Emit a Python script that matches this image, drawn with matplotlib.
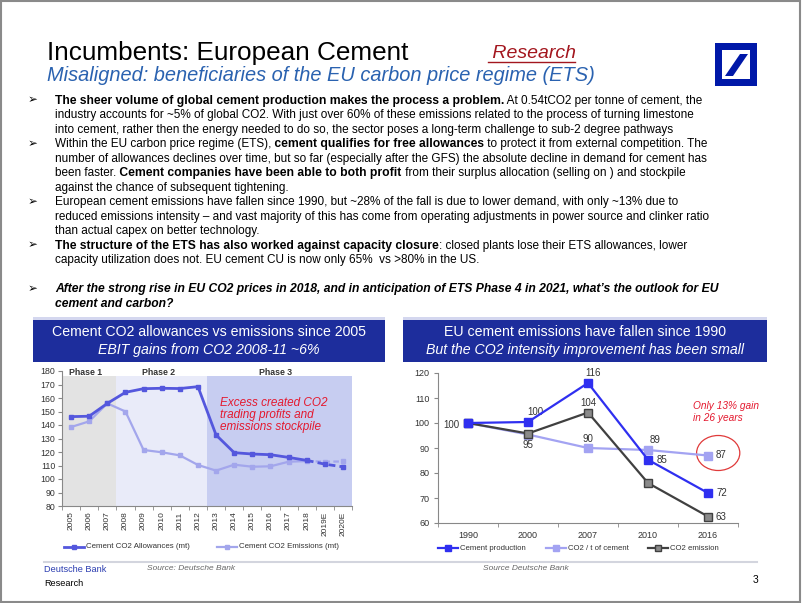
import matplotlib
matplotlib.use('Agg')
import matplotlib.pyplot as plt
from matplotlib.patches import Rectangle, Ellipse, Polygon
from matplotlib.lines import Line2D
from matplotlib.text import Annotation

plt.rcParams['font.family'] = ['Liberation Sans', 'DejaVu Sans']

# ---------------- data ----------------
years_left = ['2005', '2006', '2007', '2008', '2009', '2010', '2011', '2012',
              '2013', '2014', '2015', '2016', '2017', '2018', '2019E', '2020E']
allowances = [146.2, 146.5, 156, 164.2, 166.9, 167.2, 167, 168.4,
              132.6, 119.5, 118.5, 118, 116, 113.8, 111, 109]
emissions = [138.5, 142.7, 156, 150, 121.5, 119.8, 117.5, 110.4,
             106.2, 110.6, 109.1, 109.4, 112.8, 113.3, 112.8, 113]
n_actual = 14  # 2005..2018 solid, forecasts dashed
phases = ['Phase 1', 'Phase 2', 'Phase 3']
phase_spans = [(0, 2), (3, 7), (8, 15)]

years_right = ['1990', '2000', '2007', '2010', '2016']
production = [100, 100.4, 116, 85.3, 72]
co2_per_t = [100, 95.4, 90, 89.2, 87]
co2_emission = [100, 95.8, 104.2, 76, 62.6]

W, H = 802, 603
fig = plt.figure(figsize=(W / 100, H / 100), dpi=100)


def fx(x):
    return x / W


def fy(y):
    return 1 - y / H


def ptext(x, y, s, **kw):
    return fig.text(fx(x), fy(y), s, **kw)


# frame
fig.add_artist(Rectangle((0.001, 0.002), 0.997, 0.996, transform=fig.transFigure,
                         fill=False, edgecolor='#8a8a8a', linewidth=1.5))

# ---------------- header ----------------
ptext(47, 60, 'Incumbents: European Cement', fontsize=18.8, color='black', va='baseline')
ptext(47, 81, 'Misaligned: beneficiaries of the EU carbon price regime (ETS)',
      fontsize=14.4, color='#2a62b0', style='italic', va='baseline')
ptext(487, 58, ' Research', fontsize=14, color='#a3161e', style='italic', va='baseline')
fig.add_artist(Line2D([fx(488), fx(575)], [fy(62), fy(62)], color='#a3161e', linewidth=1))

# logo
DB = '#0018a8'
fig.add_artist(Rectangle((fx(715), fy(86)), fx(757) - fx(715), fy(43) - fy(86),
                         transform=fig.transFigure, facecolor=DB, edgecolor='none'))
fig.add_artist(Rectangle((fx(722), fy(79)), fx(750) - fx(722), fy(50) - fy(79),
                         transform=fig.transFigure, facecolor='white', edgecolor='none'))
fig.add_artist(Polygon([(fx(725), fy(76)), (fx(733), fy(76)), (fx(748), fy(54)), (fx(740), fy(54))],
                       closed=True, transform=fig.transFigure, facecolor=DB, edgecolor='none'))

# ---------------- bullets ----------------
REG_SIZE = 8.45
BOLD_SIZE = 8.7
N = 'normal'
B = 'bold'
lines = [
    (0, True, [("The sheer volume of global cement production makes the process a problem.", B, N),
               (" At 0.54tCO2 per tonne of cement, the", N, N)]),
    (1, False, [("industry accounts for ~5% of global CO2. With just over 60% of these emissions related to the process of turning limestone", N, N)]),
    (2, False, [("into cement, rather then the energy needed to do so, the sector poses a long-term challenge to sub-2 degree pathways", N, N)]),
    (3, True, [("Within the EU carbon price regime (ETS),", N, N),
               (" cement qualifies for free allowances", B, N),
               (" to protect it from external competition. The", N, N)]),
    (4, False, [("number of allowances declines over time, but so far (especially after the GFS) the absolute decline in demand for cement has", N, N)]),
    (5, False, [("been faster.", N, N), (" Cement companies have been able to both profit", B, N),
                (" from their surplus allocation (selling on ) and stockpile", N, N)]),
    (6, False, [("against the chance of subsequent tightening.", N, N)]),
    (7, True, [("European cement emissions have fallen since 1990, but ~28% of the fall is due to lower demand, with only ~13% due to", N, N)]),
    (8, False, [("reduced emissions intensity \u2013 and vast majority of this has come from operating adjustments in power source and clinker ratio", N, N)]),
    (9, False, [("than actual capex on better technology.", N, N)]),
    (10, True, [("The structure of the ETS has also worked against capacity closure", B, N),
                (": closed plants lose their ETS allowances, lower", N, N)]),
    (11, False, [("capacity utilization does not. EU cement CU is now only 65%  vs >80% in the US.", N, N)]),
    (13, True, [("After the strong rise in EU CO2 prices in 2018, and in anticipation of ETS Phase 4 in 2021, what\u2019s the outlook for EU", B, 'italic')]),
    (14, False, [("cement and carbon?", B, 'italic')]),
]
LINE0 = 100
STEP = 14.5
for k, bullet, segs in lines:
    yc = LINE0 + STEP * k
    if bullet:
        ptext(33, yc, '\u27a2', fontsize=8.5, family='DejaVu Sans', ha='center', va='center', color='black')
    prev = None
    for s, wgt, sty in segs:
        size = BOLD_SIZE if wgt == B else REG_SIZE
        if prev is None:
            prev = ptext(55, yc + 6.8, s, fontsize=size, fontweight=wgt, style=sty,
                         va='bottom', ha='left', color='black')
        else:
            a = Annotation(s, xy=(1, 0), xycoords=prev, fontsize=size, fontweight=wgt,
                           style=sty, va='bottom', ha='left', color='black',
                           family=['Liberation Sans', 'DejaVu Sans'])
            fig.add_artist(a)
            prev = a

# ---------------- chart header boxes ----------------
HDR = '#1d2d9c'
for (x0, x1, l1, l2) in [(33, 385, 'Cement CO2 allowances vs emissions since 2005',
                          'EBIT gains from CO2 2008-11 ~6%'),
                         (403, 767, 'EU cement emissions have fallen since 1990',
                          'But the CO2 intensity improvement has been small')]:
    fig.add_artist(Rectangle((fx(x0), fy(362)), fx(x1) - fx(x0), fy(320) - fy(362),
                             transform=fig.transFigure, facecolor=HDR, edgecolor='none'))
    fig.add_artist(Rectangle((fx(x0), fy(320)), fx(x1) - fx(x0), fy(317) - fy(320),
                             transform=fig.transFigure, facecolor='#d4d7ef', edgecolor='none'))
    xc = (x0 + x1) / 2
    ptext(xc, 332, l1, fontsize=10.2, color='white', ha='center', va='center')
    ptext(xc, 350, l2, fontsize=10.2, color='white', ha='center', va='center', style='italic')

# ---------------- left chart ----------------
TICKC = '#333333'
axL = fig.add_axes([fx(62), fy(506), fx(352) - fx(62), fy(371) - fy(506)])
axL.set_xlim(-0.5, len(years_left) - 0.5)
axL.set_ylim(80, 180)
phase_colors = ['#e3e3e3', '#e9ebf9', '#c7cdf1']
for (a, b), pc, name in zip(phase_spans, phase_colors, phases):
    axL.fill_between([a - 0.5, b + 0.5], 80, 176, color=pc, linewidth=0, zorder=0)
    axL.text((a + b) / 2 - 0.2, 179, name, fontsize=6.3, fontweight='bold', color='#333333',
             ha='center', va='center')
xs = list(range(len(years_left)))
C_ALLOW = '#5457dd'
C_EMIS = '#a3a6ec'
axL.plot(xs[:n_actual], allowances[:n_actual], color=C_ALLOW, lw=2, marker='s', ms=3.2, zorder=4)
axL.plot(xs[n_actual - 1:], allowances[n_actual - 1:], color=C_ALLOW, lw=2, ls=(0, (2.5, 1.5)),
         marker='s', ms=3.2, markevery=[1, 2], zorder=4)
axL.plot(xs[:n_actual], emissions[:n_actual], color=C_EMIS, lw=1.6, marker='s', ms=3, zorder=3)
axL.plot(xs[n_actual - 1:], emissions[n_actual - 1:], color=C_EMIS, lw=1.6, ls=(0, (2.5, 1.5)),
         marker='s', ms=3, markevery=[1, 2], zorder=3)
axL.text(8.2, 161, 'Excess created CO2\ntrading profits and\nemissions stockpile',
         fontsize=8.5, color='#e4192f', style='italic', ha='left', va='top', linespacing=1.0)
axL.set_yticks(range(80, 181, 10))
axL.set_xticks(xs)
axL.set_xticklabels(years_left, rotation=90)
axL.set_xticks([x - 0.5 for x in xs] + [len(xs) - 0.5], minor=True)
axL.tick_params(axis='x', which='major', length=0, labelsize=6, colors=TICKC, pad=4)
axL.tick_params(axis='x', which='minor', length=3, color='#888888')
axL.tick_params(axis='y', length=3, labelsize=6.3, colors=TICKC, color='#888888', pad=2)
for sp in ['top', 'right']:
    axL.spines[sp].set_visible(False)
for sp in ['left', 'bottom']:
    axL.spines[sp].set_color('#888888')
    axL.spines[sp].set_linewidth(0.8)
axL.set_facecolor('none')

# left legend
for (x0, lab, col, lw) in [(64, 'Cement CO2 Allowances (mt)', C_ALLOW, 2),
                           (217, 'Cement CO2 Emissions (mt)', C_EMIS, 1.6)]:
    fig.add_artist(Line2D([fx(x0), fx(x0 + 10), fx(x0 + 20)], [fy(547)] * 3, color=col, lw=lw,
                          marker='s', ms=3, markevery=[1]))
    ptext(x0 + 22, 547, lab, fontsize=5.7, color=TICKC, va='center')

# ---------------- right chart ----------------
axR = fig.add_axes([fx(438), fy(523), fx(738) - fx(438), fy(373) - fy(523)])
axR.set_xlim(-0.5, len(years_right) - 0.5)
axR.set_ylim(60, 120)
xr = list(range(len(years_right)))
C_PROD = '#2f2ff0'
C_INT = '#a3a3f2'
C_EM = '#404040'
axR.plot(xr, co2_per_t, color=C_INT, lw=1.6, marker='s', ms=6, zorder=3)
axR.plot(xr, co2_emission, color=C_EM, lw=1.6, marker='s', ms=6, mfc='#8a8a8a', mec=C_EM,
         mew=1, zorder=4)
axR.plot(xr, production, color=C_PROD, lw=1.6, marker='s', ms=6, zorder=5)


def lab(ax, x, y, dx, dy, ha='center'):
    ax.annotate(f'{y:.0f}', xy=(x, y), xytext=(dx, dy), textcoords='offset points',
                fontsize=7, color='#333333', ha=ha, va='center')


lab(axR, 0, production[0], -6, -1.5, ha='right')
lab(axR, 1, production[1], 5, 7)
lab(axR, 2, production[2], 4, 7)
lab(axR, 3, production[3], 6, 0, ha='left')
lab(axR, 4, production[4], 6, 0, ha='left')
lab(axR, 1, co2_per_t[1], 0, -7.5)
lab(axR, 2, co2_per_t[2], 0, 6.5)
lab(axR, 3, co2_per_t[3], 5, 7)
lab(axR, 4, co2_per_t[4], 5.5, 0, ha='left')
lab(axR, 2, co2_emission[2], 0, 6.5)
lab(axR, 4, co2_emission[4], 5.5, 0, ha='left')

axR.add_patch(Ellipse((4.17, 88), 0.72, 14, fill=False, edgecolor='#e03a3a', lw=0.9,
                      clip_on=False))
axR.text(3.75, 104.4, 'Only 13% gain\nin 26 years', fontsize=7.3, color='#e4192f', style='italic',
         ha='left', va='center', linespacing=1.15)

axR.set_yticks(range(60, 121, 10))
axR.set_xticks(xr)
axR.set_xticklabels(years_right)
axR.set_xticks([x - 0.5 for x in xr] + [len(xr) - 0.5], minor=True)
axR.tick_params(axis='x', which='major', length=0, labelsize=6.5, colors=TICKC, pad=6)
axR.tick_params(axis='x', which='minor', length=3, color='#888888')
axR.tick_params(axis='y', length=3, labelsize=6.5, colors=TICKC, color='#888888', pad=3)
for sp in ['top', 'right']:
    axR.spines[sp].set_visible(False)
for sp in ['left', 'bottom']:
    axR.spines[sp].set_color('#888888')
    axR.spines[sp].set_linewidth(0.8)
axR.set_facecolor('none')

# right legend
for (x0, labt, col, kw) in [(438, 'Cement production', C_PROD, {}),
                            (546, 'CO2 / t of cement', C_INT, {}),
                            (648, 'CO2 emission', C_EM, {'mfc': '#8a8a8a', 'mec': C_EM})]:
    fig.add_artist(Line2D([fx(x0), fx(x0 + 10), fx(x0 + 20)], [fy(548)] * 3, color=col, lw=1.6,
                          marker='s', ms=4.5, markevery=[1], **kw))
    ptext(x0 + 22, 548, labt, fontsize=5.6, color=TICKC, va='center')

# ---------------- footer ----------------
fig.add_artist(Line2D([fx(44), fx(757)], [fy(562), fy(562)], color='#d3d5de', lw=1.5))
ptext(44, 569, 'Deutsche Bank', fontsize=6.6, color='#2a3cb0', va='center')
ptext(44, 583, 'Research', fontsize=6.6, color='black', va='center')
ptext(147, 569, 'Source: Deutsche Bank', fontsize=6.0, color='#666666', style='italic', va='center')
ptext(483, 569, 'Source Deutsche Bank', fontsize=6.0, color='#666666', style='italic', va='center')
ptext(758, 580, '3', fontsize=7.5, color='black', ha='right', va='center')

fig.savefig('out.png', dpi=100)
